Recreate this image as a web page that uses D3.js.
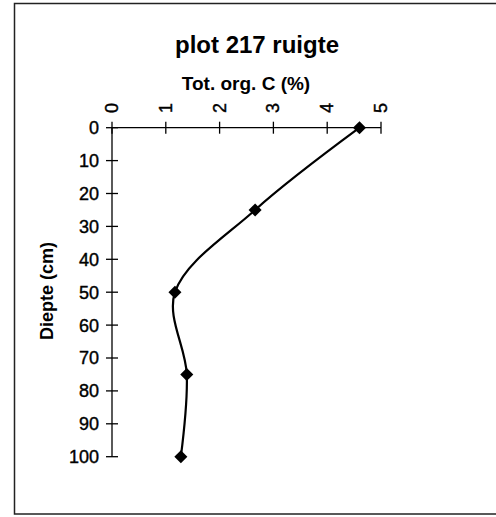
<!DOCTYPE html>
<html>
<head>
<meta charset="utf-8">
<script src="https://cdn.jsdelivr.net/npm/d3@7"></script>
<style>
  html, body { margin: 0; padding: 0; background: #fff; }
  svg { display: block; }
  text { font-family: "Liberation Sans", Arial, sans-serif; fill: #000; }
</style>
</head>
<body>
<div id="chart"></div>
<script>
const title = "plot 217 ruigte";
const xTitle = "Tot. org. C (%)";
const yTitle = "Diepte (cm)";
const depth = [0, 25, 50, 75, 100];
const orgC = [4.6, 2.66, 1.17, 1.39, 1.28];
const xTicks = [0, 1, 2, 3, 4, 5];
const yTicks = [0, 10, 20, 30, 40, 50, 60, 70, 80, 90, 100];

const W = 496, H = 517;
const svg = d3.select("#chart").append("svg").attr("width", W).attr("height", H);

// frame (right edge falls outside the picture, as in the scan)
svg.append("rect").attr("x", 14.5).attr("y", 3.5).attr("width", 495).attr("height", 510.5)
  .attr("fill", "none").attr("stroke", "#222").attr("stroke-width", 1.5);

const x = d3.scaleLinear().domain([0, 5]).range([112, 381]);
const y = d3.scaleLinear().domain([0, 100]).range([127.7, 456.7]);

// titles
svg.append("text").attr("x", 257).attr("y", 53).attr("text-anchor", "middle")
  .attr("font-size", 24).attr("font-weight", "bold").text(title);
svg.append("text").attr("x", 246).attr("y", 90).attr("text-anchor", "middle")
  .attr("font-size", 19).attr("font-weight", "bold").text(xTitle);
svg.append("text").attr("transform", "translate(53,291) rotate(-90)").attr("text-anchor", "middle")
  .attr("font-size", 18).attr("font-weight", "bold").text(yTitle);

// x axis (top)
const gx = svg.append("g").attr("transform", `translate(0,${y(0)})`);
gx.append("line").attr("x1", x(0)).attr("x2", x(5)).attr("stroke", "#000").attr("stroke-width", 1.3);
gx.selectAll("line.t").data(xTicks).join("line").attr("class", "t")
  .attr("x1", d => x(d)).attr("x2", d => x(d)).attr("y1", -6).attr("y2", 6)
  .attr("stroke", "#000").attr("stroke-width", 1.3);
svg.selectAll("text.xt").data(xTicks).join("text").attr("class", "xt")
  .attr("transform", d => `translate(${x(d)},108) rotate(-90)`)
  .attr("text-anchor", "middle").attr("dominant-baseline", "central")
  .attr("font-size", 18).attr("stroke", "#000").attr("stroke-width", 0.4).text(d => d);

// y axis
const gy = svg.append("g").attr("transform", `translate(${x(0)},0)`);
gy.append("line").attr("y1", y(0)).attr("y2", y(100)).attr("stroke", "#000").attr("stroke-width", 1.3);
gy.selectAll("line.t").data(yTicks).join("line").attr("class", "t")
  .attr("y1", d => y(d)).attr("y2", d => y(d)).attr("x1", -6).attr("x2", 6)
  .attr("stroke", "#000").attr("stroke-width", 1.3);
svg.selectAll("text.yt").data(yTicks).join("text").attr("class", "yt")
  .attr("x", 99).attr("y", d => y(d)).attr("dy", "0.36em")
  .attr("text-anchor", "end").attr("font-size", 18)
  .attr("stroke", "#000").attr("stroke-width", 0.4).text(d => d);

// data
const pts = depth.map((d, i) => ({ d, c: orgC[i] }));
const line = d3.line().x(p => x(p.c)).y(p => y(p.d)).curve(d3.curveCatmullRom.alpha(0.5));
svg.append("path").datum(pts).attr("d", line).attr("fill", "none")
  .attr("stroke", "#000").attr("stroke-width", 2.2);

svg.selectAll("path.m").data(pts).join("path").attr("class", "m")
  .attr("d", d3.symbol().type(d3.symbolSquare).size(85))
  .attr("transform", p => `translate(${x(p.c)},${y(p.d)}) rotate(45)`)
  .attr("fill", "#000");
</script>
</body>
</html>
